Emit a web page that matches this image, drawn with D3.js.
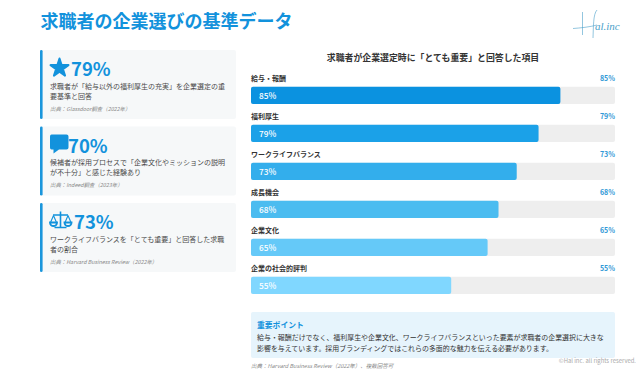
<!DOCTYPE html>
<html>
<head>
<meta charset="utf-8">
<script src="https://cdn.jsdelivr.net/npm/d3@7"></script>
<style>
html,body{margin:0;padding:0;background:#fff;overflow:hidden}
text{font-family:"Noto Sans CJK JP","Noto Sans",sans-serif}
</style>
</head>
<body>
<script>
let categories = ["給与・報酬","福利厚生","ワークライフバランス","成長機会","企業文化","企業の社会的評判"];
let values = [85,79,73,68,65,55];

let statValues = [79,70,73];
let statLines = [
  ["求職者が「給与以外の福利厚生の充実」を企業選定の重","要基準と回答"],
  ["候補者が採用プロセスで「企業文化やミッションの説明","が不十分」と感じた経験あり"],
  ["ワークライフバランスを「とても重要」と回答した求職","者の割合"]
];
let statSources = ["出典：Glassdoor調査（2022年）","出典：Indeed調査（2023年）","出典：Harvard Business Review（2022年）"];

let noteLines = [
  "給与・報酬だけでなく、福利厚生や企業文化、ワークライフバランスといった要素が求職者の企業選択に大きな",
  "影響を与えています。採用ブランディングではこれらの多面的な魅力を伝える必要があります。"
];

const blue = "#1292dc";

let svg = d3.select("body").append("svg").attr("width",640).attr("height",370);

svg.append("text").attr("x",40.5).attr("y",27.5)
  .attr("font-size",18).attr("font-weight",700).attr("fill",blue)
  .text("求職者の企業選びの基準データ");

// logo
let logo = svg.append("g").attr("fill","none").attr("stroke","#4a9fca").attr("stroke-width",0.6);
logo.append("path").attr("d","M573 28.5 C580 28 590 27 597 25");
logo.append("path").attr("d","M582.5 12 L582.5 35");
logo.append("path").attr("d","M597 10 C593 14 593.5 28 593 38");
svg.append("text").attr("x",595).attr("y",29.5)
  .attr("font-size",11).attr("font-style","italic").attr("fill","#4a9fca")
  .style("font-family","'Liberation Serif'").text("al.inc");

// left cards
let cardY = d3.scaleBand().domain(d3.range(3)).range([50,272]).paddingInner(7.5/76.5);
let numX = [71,68,74];

let cards = svg.selectAll("g.card").data(statValues).enter().append("g")
  .attr("class","card")
  .attr("transform",(d,i)=>`translate(40,${cardY(i)})`);

cards.append("rect").attr("x",0).attr("y",0).attr("width",196).attr("height",cardY.bandwidth())
  .attr("rx",2).attr("fill","#f6f8f9");
cards.append("rect").attr("x",0).attr("y",0).attr("width",2.6).attr("height",cardY.bandwidth())
  .attr("rx",1.3).attr("fill","#1a96dc");

cards.append("text").attr("x",(d,i)=>numX[i]-40).attr("y",26)
  .attr("font-size",18.5).attr("font-weight",700).attr("fill",blue)
  .text(d=>d+"%");

cards.each(function(d,i){
  let g = d3.select(this);
  g.selectAll("text.line").data(statLines[i]).enter().append("text")
    .attr("class","line").attr("x",10).attr("y",(t,j)=>38.5+j*10)
    .attr("font-size",7).attr("fill","#4a4a4a").text(t=>t);
  g.append("text").attr("x",10).attr("y",60.5)
    .attr("font-size",5.4).attr("font-style","italic").attr("fill","#888")
    .text(statSources[i]);
});

// icons
cards.filter((d,i)=>i==0).append("path")
  .attr("transform","translate(19.5,18)")
  .attr("d",d3.symbol(d3.symbolStar,100))
  .attr("fill",blue).attr("stroke",blue).attr("stroke-width",2).attr("stroke-linejoin","round");

cards.filter((d,i)=>i==1).append("path")
  .attr("d","M11.5 8 H26.5 Q28.5 8 28.5 10 V21 Q28.5 23 26.5 23 H19 L13.5 27 V23 H11.5 Q10 23 10 21 V10 Q10 8 11.5 8 Z")
  .attr("fill",blue);

let scaleIcon = cards.filter((d,i)=>i==2).append("g").attr("fill","none").attr("stroke",blue).attr("stroke-width",1.6);
scaleIcon.append("path").attr("d","M13 12 H28 M20.5 8.5 V24 M14.5 24.5 H26.5");
scaleIcon.append("path").attr("d","M13.5 12.5 L10.5 19.5 M13.5 12.5 L16.5 19.5 M28 12.5 L25 19.5 M28 12.5 L31 19.5").attr("stroke-width",1.1);
scaleIcon.append("path").attr("d","M10 19.5 H17 A3.5 3.5 0 0 1 10 19.5 Z M24.5 19.5 H31.5 A3.5 3.5 0 0 1 24.5 19.5 Z").attr("stroke-width",1.9);

// bars
svg.append("text").attr("x",433).attr("y",61)
  .attr("text-anchor","middle").attr("font-size",8.9).attr("font-weight",700).attr("fill","#333")
  .text("求職者が企業選定時に「とても重要」と回答した項目");

let x = d3.scaleLinear().domain([0,100]).range([251,615]);
let y = d3.scaleBand().domain(categories).range([86.7,86.7+38*5+17.4]).paddingInner(20.6/38);
let color = d3.scaleOrdinal().domain(categories).range(["#0b92e0","#1ba1e8","#33aeec","#4bbcf0","#65c9f8","#80d7ff"]);

let rows = svg.selectAll("g.row").data(categories).enter().append("g").attr("class","row");

rows.append("rect").attr("x",x(0)).attr("y",d=>y(d))
  .attr("width",x(100)-x(0)).attr("height",y.bandwidth())
  .attr("rx",2).attr("fill","#eeeeee");

rows.append("rect").attr("x",x(0)).attr("y",d=>y(d))
  .attr("width",(d,i)=>x(values[i])-x(0)).attr("height",y.bandwidth())
  .attr("rx",2).attr("fill",d=>color(d));

rows.append("text").attr("x",x(0)).attr("y",d=>y(d)-6)
  .attr("font-size",7).attr("font-weight",700).attr("fill","#333").text(d=>d);

rows.append("text").attr("x",x(100)).attr("y",d=>y(d)-6)
  .attr("text-anchor","end").attr("font-size",7).attr("font-weight",700).attr("fill","#2f98d6")
  .text((d,i)=>values[i]+"%");

rows.append("text").attr("x",x(0)+8).attr("y",d=>y(d)+12)
  .attr("font-size",8.3).attr("font-weight",500).attr("fill","#fff")
  .text((d,i)=>values[i]+"%");

// note box
svg.append("rect").attr("x",251).attr("y",312).attr("width",364).attr("height",46)
  .attr("rx",2).attr("fill","#e6f4fc");
svg.append("text").attr("x",257).attr("y",328)
  .attr("font-size",7.8).attr("font-weight",700).attr("fill",blue).text("重要ポイント");
svg.selectAll("text.note").data(noteLines).enter().append("text")
  .attr("class","note").attr("x",257).attr("y",(d,i)=>340+i*11)
  .attr("font-size",6.95).attr("fill","#333").text(d=>d);

svg.append("text").attr("x",251).attr("y",368)
  .attr("font-size",5.5).attr("font-style","italic").attr("fill","#888")
  .text("出典：Harvard Business Review（2022年）、複数回答可");

svg.append("text").attr("x",636).attr("y",362.5)
  .attr("text-anchor","end").attr("font-size",5.9).attr("fill","#aaa")
  .text("©Hal inc. all rights reserved.");
</script>
</body>
</html>
